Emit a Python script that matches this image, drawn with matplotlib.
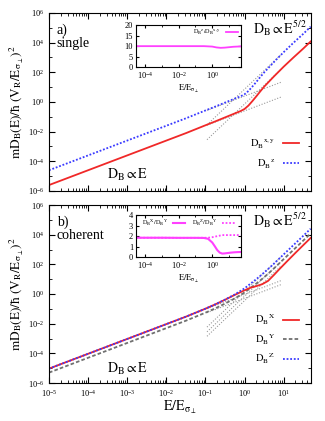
# -*- coding: utf-8 -*-
"""
Diffusion constant D_B(E): single speckle vs coherent configuration
"""

import matplotlib
matplotlib.use('Agg')
import matplotlib.pyplot as plt
from matplotlib.ticker import LogLocator, NullFormatter, FixedLocator
import numpy as np

plt.rcParams['font.family'] = ['Liberation Serif', 'DejaVu Serif']
plt.rcParams['mathtext.fontset'] = 'stix'

# ---- panel a) single : log10(E), log10(D) ----
single_logE = [-5, -4, -3, -2, -1.5, -1, -0.75, -0.5, -0.25, -0.1, 0, 0.1, 0.2, 0.3, 0.4, 0.5,
               0.75, 1, 1.25, 1.5, 1.69]
single_xy_logD = [-5.6, -4.6, -3.6, -2.6, -2.1, -1.57, -1.31, -1.04, -0.77, -0.61, -0.47, -0.24, 0.06,
                  0.38, 0.71, 1.03, 1.72, 2.38, 3.0, 3.6, 4.08]
single_z_logD = [-4.6, -3.6, -2.6, -1.6, -1.1, -0.57, -0.31, -0.04, 0.23, 0.385, 0.52, 0.745, 1.04,
                 1.35, 1.68, 1.99, 2.69, 3.36, 3.99, 4.59, 5.08]

# inset a): D_z / D_xy
single_ratio_logE = [-4.55, -3, -2, -1, -0.5, 0, 0.25, 0.5, 0.75, 1, 1.25, 1.5, 1.69]
single_ratio = [10, 10, 10, 10, 10, 9.8, 9.4, 9.2, 9.3, 9.5, 9.7, 9.8, 9.9]

# asymptotes a): (logE start, logE end), (logD start, logD end)
single_asym = [
    ([-0.96, 0.93], [-1.56, 0.33]),
    ([-0.96, 0.93], [-0.56, 1.33]),
    ([-0.96, 0.93], [-2.54, 2.19]),
    ([-0.96, 0.93], [-1.54, 3.19]),
]

# ---- panel b) coherent ----
coh_logE = [-5, -4, -3, -2, -1.5, -1, -0.75, -0.5, -0.25, 0, 0.15, 0.3, 0.45, 0.6, 0.75, 0.9, 1.1, 1.3, 1.5, 1.69]
coh_X_logD = [-5.03, -4.03, -3.03, -2.03, -1.53, -0.99, -0.70, -0.39, -0.06, 0.25, 0.42, 0.53, 0.66, 0.88, 1.28, 1.70, 2.24, 2.77, 3.29, 3.78]
coh_Y_logD = [-5.3, -4.3, -3.3, -2.3, -1.8, -1.26, -0.97, -0.65, -0.3, 0.1, 0.4, 0.7, 1.02, 1.36, 1.72, 2.1, 2.6, 3.1, 3.6, 4.08]
coh_Z_logD = [-5.03, -4.03, -3.03, -2.03, -1.53, -0.99, -0.70, -0.38, -0.03, 0.38, 0.69, 1.0, 1.33, 1.68, 2.04, 2.42, 2.92, 3.42, 3.92, 4.40]

# inset b): D_X / D_Y and D_Z / D_Y
coh_ratio_logE = [-4.55, -3, -2, -1, -0.5, -0.25, 0, 0.15, 0.3, 0.45, 0.6, 0.75, 0.9, 1.1, 1.3, 1.5, 1.69]
coh_XY_ratio = [1.85, 1.85, 1.84, 1.84, 1.83, 1.75, 1.4, 1.05, 0.68, 0.44, 0.35, 0.37, 0.4, 0.44, 0.47, 0.49, 0.5]
coh_ZY_ratio = [1.85, 1.85, 1.84, 1.84, 1.85, 1.85, 1.9, 1.95, 2.0, 2.05, 2.1, 2.1, 2.1, 2.1, 2.1, 2.1, 2.1]

coh_asym = [
    ([-0.96, 0.93], [-0.99, 0.90]),
    ([-0.96, 0.93], [-1.26, 0.63]),
    ([-0.96, 0.93], [-2.23, 2.50]),
    ([-0.96, 0.93], [-2.55, 2.18]),
    ([-0.96, 0.93], [-2.85, 1.88]),
]

RED = '#f02828'
BLUE = '#3a3aff'
GRAY = '#707070'
MAG = '#ff40ff'
ASYM = '#9a9a9a'

W, H = 325, 421


def p(v):
    return 10.0 ** np.array(v)


def setup_main(ax, show_xlabels):
    ax.set_xscale('log')
    ax.set_yscale('log')
    ax.set_xlim(1e-5, 50)
    ax.set_ylim(1e-6, 1e6)
    ax.xaxis.set_major_locator(LogLocator(base=10, numticks=15))
    ax.xaxis.set_minor_locator(LogLocator(base=10, subs=np.arange(2, 10), numticks=15))
    ax.yaxis.set_major_locator(LogLocator(base=100, numticks=15))
    ax.yaxis.set_minor_locator(FixedLocator(10.0 ** np.arange(-5, 6, 2)))
    ax.xaxis.set_minor_formatter(NullFormatter())
    ax.yaxis.set_minor_formatter(NullFormatter())
    ax.tick_params(which='both', direction='in', top=True, right=True, labelsize=6)
    ax.tick_params(which='major', length=4)
    ax.tick_params(which='minor', length=2)
    if not show_xlabels:
        ax.xaxis.set_major_formatter(NullFormatter())
    ax.set_ylabel(r'$\mathrm{mD_B(E)/\hbar\ (V_R/E_{\sigma_\perp})^2}$', fontsize=9.5, labelpad=1)


def setup_inset(ax, ymax, yticks):
    ax.set_xscale('log')
    ax.set_xlim(10 ** -4.55, 50)
    ax.set_ylim(0, ymax)
    ax.set_yticks(yticks)
    ax.xaxis.set_major_locator(FixedLocator([1e-4, 1e-2, 1e0]))
    ax.xaxis.set_minor_locator(FixedLocator(10.0 ** np.arange(-4, 2)))
    ax.xaxis.set_minor_formatter(NullFormatter())
    ax.tick_params(which='both', direction='in', top=True, right=True, labelsize=6, pad=2)
    ax.tick_params(which='major', length=2.5)
    ax.tick_params(which='minor', length=1.5)
    ax.set_xlabel(r'$\mathrm{E/E_{\sigma_\perp}}$', fontsize=6, labelpad=1)


fig = plt.figure(figsize=(W / 100, H / 100), dpi=100)

ax1 = fig.add_axes([49 / W, 1 - 191 / H, 262 / W, 178 / H])
ax2 = fig.add_axes([49 / W, 1 - 383 / H, 262 / W, 178 / H])

# panel a)
for xs, ys in single_asym:
    ax1.plot(p(xs), p(ys), color=ASYM, lw=0.8, ls=(0, (1, 1.5)))
ax1.plot(p(single_logE), p(single_xy_logD), color=RED, lw=1.3, label=r'$\mathrm{D_B}^{\mathrm{x,y}}$')
ax1.plot(p(single_logE), p(single_z_logD), color=BLUE, lw=1.3, ls=(0, (1, 1)), label=r'$\mathrm{D_B}^{\mathrm{z}}$')
setup_main(ax1, False)
ax1.legend(loc='center right', bbox_to_anchor=(0.97, 0.21), frameon=False, markerfirst=False,
           fontsize=7.5, handlelength=1.5, labelspacing=0.6, borderaxespad=0)
ax1.text(0.03, 0.94, 'a)\nsingle', transform=ax1.transAxes, va='top', ha='left', fontsize=10, linespacing=1.0)
ax1.text(0.985, 0.915, r'$\mathrm{D_B \propto E^{5/2}}$', transform=ax1.transAxes, va='center', ha='right', fontsize=10)
ax1.text(0.22, 0.09, r'$\mathrm{D_B \propto E}$', transform=ax1.transAxes, va='center', ha='left', fontsize=10)

# panel b)
for xs, ys in coh_asym:
    ax2.plot(p(xs), p(ys), color=ASYM, lw=0.8, ls=(0, (1, 1.5)))
ax2.plot(p(coh_logE), p(coh_Y_logD), color=GRAY, lw=1.3, ls=(0, (2, 1.2)), label=r'$\mathrm{D_B}^{\mathrm{Y}}$')
ax2.plot(p(coh_logE), p(coh_X_logD), color=RED, lw=1.3, label=r'$\mathrm{D_B}^{\mathrm{X}}$')
ax2.plot(p(coh_logE), p(coh_Z_logD), color=BLUE, lw=1.3, ls=(0, (1, 1)), label=r'$\mathrm{D_B}^{\mathrm{Z}}$')
setup_main(ax2, True)
hs, ls = ax2.get_legend_handles_labels()
order = [1, 0, 2]
ax2.legend([hs[i] for i in order], [ls[i] for i in order], loc='center right', bbox_to_anchor=(0.97, 0.245),
           frameon=False, markerfirst=False, fontsize=7.5, handlelength=1.5, labelspacing=0.5, borderaxespad=0)
ax2.set_xlabel(r'$\mathrm{E/E_{\sigma_\perp}}$', fontsize=10, labelpad=0)
ax2.text(0.03, 0.94, 'b)\ncoherent', transform=ax2.transAxes, va='top', ha='left', fontsize=10, linespacing=1.0)
ax2.text(0.985, 0.915, r'$\mathrm{D_B \propto E^{5/2}}$', transform=ax2.transAxes, va='center', ha='right', fontsize=10)
ax2.text(0.22, 0.08, r'$\mathrm{D_B \propto E}$', transform=ax2.transAxes, va='center', ha='left', fontsize=10)

# insets
in1 = fig.add_axes([136 / W, 1 - 67.3 / H, 104.7 / W, 42.3 / H])
in1.plot(p(single_ratio_logE), single_ratio, color=MAG, lw=1.3, label=r'$\mathrm{D_B}^{\mathrm{z}}\mathrm{/D_B}^{\mathrm{x,y}}$')
setup_inset(in1, 20, [0, 5, 10, 15, 20])
in1.legend(loc='upper right', frameon=False, markerfirst=False, fontsize=4.5, handlelength=2,
           borderaxespad=0.2, borderpad=0.2)

in2 = fig.add_axes([136 / W, 1 - 257.3 / H, 104.7 / W, 42.3 / H])
in2.plot(p(coh_ratio_logE), coh_XY_ratio, color=MAG, lw=1.5, label=r'$\mathrm{D_B}^{\mathrm{X}}\mathrm{/D_B}^{\mathrm{Y}}$')
in2.plot(p(coh_ratio_logE), coh_ZY_ratio, color=MAG, lw=1.3, ls=(0, (1, 1)), label=r'$\mathrm{D_B}^{\mathrm{Z}}\mathrm{/D_B}^{\mathrm{Y}}$')
setup_inset(in2, 4, [0, 1, 2, 3, 4])
in2.legend(loc='upper center', ncol=2, frameon=False, markerfirst=False, fontsize=4.5, handlelength=2,
           columnspacing=1.0, borderaxespad=0.2, borderpad=0.2)

fig.savefig('out.png', dpi=100)
